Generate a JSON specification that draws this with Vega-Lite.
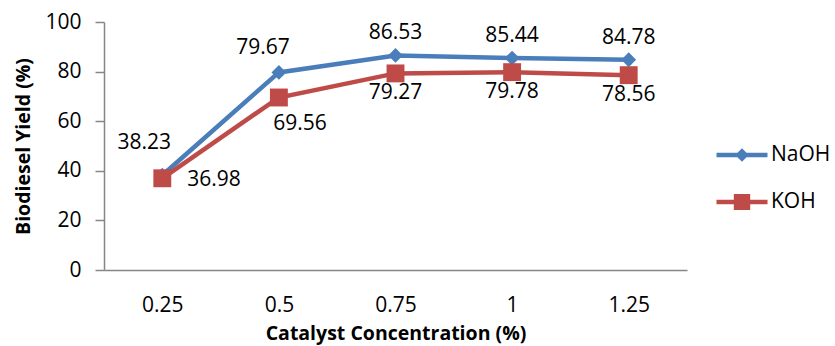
{
  "$schema": "https://vega.github.io/schema/vega-lite/v6.json",
  "width": 583,
  "height": 248,
  "autosize": {"type": "none"},
  "padding": {"left": 104, "top": 22, "right": 148, "bottom": 76},
  "background": "white",
  "config": {
    "view": {"stroke": null},
    "font": "Open Sans",
    "axis": {"grid": false, "domainColor": "#868686", "tickColor": "#868686", "domainWidth": 1.5, "tickWidth": 1.5, "labelFont": "Open Sans", "labelFontSize": 21, "labelColor": "#000000", "titleFont": "Open Sans", "titleFontSize": 19.5, "titleFontWeight": "bold", "titleColor": "#000000"}
  },
  "data": {
    "values": [
      {"conc": "0.25", "series": "NaOH", "yield": 38.23},
      {"conc": "0.5", "series": "NaOH", "yield": 79.67},
      {"conc": "0.75", "series": "NaOH", "yield": 86.53},
      {"conc": "1", "series": "NaOH", "yield": 85.44},
      {"conc": "1.25", "series": "NaOH", "yield": 84.78},
      {"conc": "0.25", "series": "KOH", "yield": 36.98},
      {"conc": "0.5", "series": "KOH", "yield": 69.56},
      {"conc": "0.75", "series": "KOH", "yield": 79.27},
      {"conc": "1", "series": "KOH", "yield": 79.78},
      {"conc": "1.25", "series": "KOH", "yield": 78.56}
    ]
  },
  "encoding": {
    "x": {"field": "conc", "type": "ordinal", "sort": ["0.25", "0.5", "0.75", "1", "1.25"], "scale": {"type": "point", "padding": 0.5},
      "axis": {"title": "Catalyst Concentration (%)", "labelAngle": 0, "ticks": false, "labelPadding": 24, "titlePadding": 9}},
    "y": {"field": "yield", "type": "quantitative", "scale": {"domain": [0, 100], "nice": false, "zero": true},
      "axis": {"title": "Biodiesel Yield (%)", "values": [0, 20, 40, 60, 80, 100], "tickSize": 9, "labelPadding": 14, "titlePadding": 11}}
  },
  "layer": [
    {
      "mark": {"type": "line", "strokeWidth": 4.5},
      "encoding": {
        "color": {"field": "series", "type": "nominal", "sort": ["NaOH", "KOH"],
          "scale": {"domain": ["NaOH", "KOH"], "range": ["#4A7EBB", "#BE4B48"]},
          "legend": {
            "title": null, "orient": "none", "legendX": 618, "legendY": 113, "padding": 0,
            "labelFont": "Open Sans", "labelFontSize": 21, "labelColor": "#000000", "labelOffset": 9,
            "symbolSize": 1600, "rowPadding": 17,
            "encode": {
              "symbols": {
                "update": {
                  "shape": {"signal": "datum.value == 'NaOH' ? 'M-1.275,-0.11L1.275,-0.11L1.275,0.11L-1.275,0.11Z M0,-0.34L0.34,0L0,0.34L-0.34,0Z' : 'M-1.275,-0.11L1.275,-0.11L1.275,0.11L-1.275,0.11Z M-0.41,-0.4L0.41,-0.4L0.41,0.4L-0.41,0.4Z'"},
                  "fill": {"signal": "datum.value == 'NaOH' ? '#4A7EBB' : '#BE4B48'"},
                  "stroke": {"value": "transparent"},
                  "strokeWidth": {"value": 0},
                  "opacity": {"value": 1},
                  "size": {"value": 1600}
                }
              }
            }
          }
        }
      }
    },
    {
      "transform": [{"filter": "datum.series == 'NaOH'"}],
      "mark": {"type": "point", "filled": true, "opacity": 1, "shape": "diamond", "size": 220},
      "encoding": {"color": {"field": "series", "type": "nominal", "legend": null}}
    },
    {
      "transform": [{"filter": "datum.series == 'KOH'"}],
      "mark": {"type": "point", "filled": true, "opacity": 1, "shape": "square", "size": 320},
      "encoding": {"color": {"field": "series", "type": "nominal", "legend": null}}
    },
    {
      "transform": [{"filter": "datum.series == 'NaOH' && datum.conc != '0.25' && datum.conc != '0.5'"}],
      "mark": {"type": "text", "fontSize": 21, "dy": -22, "color": "#000000"},
      "encoding": {"text": {"field": "yield", "type": "quantitative", "format": ".2f"}}
    },
    {
      "transform": [{"filter": "datum.series == 'NaOH' && datum.conc == '0.5'"}],
      "mark": {"type": "text", "fontSize": 21, "dy": -24, "dx": -16, "color": "#000000"},
      "encoding": {"text": {"field": "yield", "type": "quantitative", "format": ".2f"}}
    },
    {
      "transform": [{"filter": "datum.series == 'NaOH' && datum.conc == '0.25'"}],
      "mark": {"type": "text", "fontSize": 21, "dy": -32, "dx": -18, "color": "#000000"},
      "encoding": {"text": {"field": "yield", "type": "quantitative", "format": ".2f"}}
    },
    {
      "transform": [{"filter": "datum.series == 'KOH' && datum.conc != '0.25' && datum.conc != '0.5'"}],
      "mark": {"type": "text", "fontSize": 21, "dy": 20, "color": "#000000"},
      "encoding": {"text": {"field": "yield", "type": "quantitative", "format": ".2f"}}
    },
    {
      "transform": [{"filter": "datum.series == 'KOH' && datum.conc == '0.5'"}],
      "mark": {"type": "text", "fontSize": 21, "dy": 27, "dx": 21, "color": "#000000"},
      "encoding": {"text": {"field": "yield", "type": "quantitative", "format": ".2f"}}
    },
    {
      "transform": [{"filter": "datum.series == 'KOH' && datum.conc == '0.25'"}],
      "mark": {"type": "text", "fontSize": 21, "dy": 2, "dx": 25, "align": "left", "color": "#000000"},
      "encoding": {"text": {"field": "yield", "type": "quantitative", "format": ".2f"}}
    }
  ]
}
